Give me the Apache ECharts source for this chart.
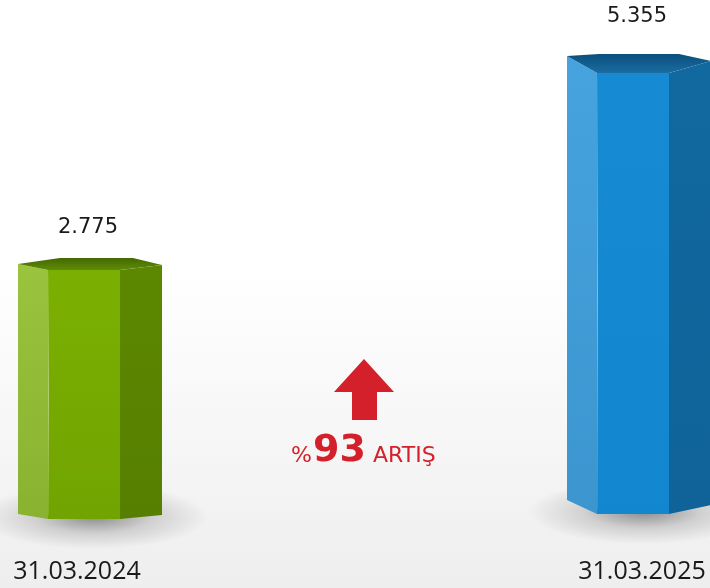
<!DOCTYPE html>
<html>
<head>
<meta charset="utf-8">
<script src="https://cdn.jsdelivr.net/npm/echarts@6/dist/echarts.min.js"></script>
<style>
  html, body { margin: 0; padding: 0; }
  #chart { width: 710px; height: 588px; }
</style>
</head>
<body>
<div id="chart"></div>
<script>
// data
const categories = ['31.03.2024', '31.03.2025'];
const values = [2775, 5355];
const yMin = -460;
const yMax = 5918;

// look of each prism (faces + little perspective tweaks)
const barLook = [
  {
    left: ['#9ac43e', '#88b230'], front: ['#7bb002', '#71a400'], right: ['#5c8800', '#567f00'],
    top: ['#446800', '#5f8c08'],
    tL: 6, tB: 12, tR: 5, bkL: -30, bkR: 43, bL: 5, bR: 4, baseShift: 2,
    labelDy: -42, catDx: -13
  },
  {
    left: ['#46a3de', '#3c95cf'], front: ['#168bd3', '#1286ce'], right: ['#11699f', '#0f6399'],
    top: ['#0b4f7c', '#1a6ca3'],
    tL: 17, tB: 19, tR: 12, bkL: -40, bkR: 40, bL: 14, bR: 9, baseShift: -3,
    labelDy: -56, catDx: 3
  }
];
const W = { l: 72, fl: 42, fr: 30, r: 72 };
const red = '#d3202a';

function fmt(v) {
  return String(v).replace(/\B(?=(\d{3})+(?!\d))/g, '.');
}
function vgrad(c) {
  return new echarts.graphic.LinearGradient(0, 0, 0, 1, [
    { offset: 0, color: c[0] }, { offset: 1, color: c[1] }
  ]);
}

const chart = echarts.init(document.getElementById('chart'));
const rise = Math.round((values[1] / values[0] - 1) * 100);

function renderItem(params, api) {
  const idx = api.value(0);
  const val = api.value(1);
  const top = api.coord([idx, val]);
  const base = api.coord([idx, yMin]);
  const s = barLook[idx];
  const cx = top[0], T = top[1], B = base[1] + s.baseShift;
  const L = cx - W.l, FL = cx - W.fl, FR = cx + W.fr, R = cx + W.r;
  return {
    type: 'group',
    children: [
      {
        type: 'circle',
        x: cx + 4, y: B - 2, scaleY: 0.28,
        shape: { cx: 0, cy: 0, r: 115 },
        style: {
          fill: new echarts.graphic.RadialGradient(0.5, 0.5, 0.5, [
            { offset: 0, color: 'rgba(0,0,0,0.42)' },
            { offset: 0.5, color: 'rgba(0,0,0,0.14)' },
            { offset: 1, color: 'rgba(0,0,0,0)' }
          ])
        },
        silent: true
      },
      {
        type: 'polygon',
        shape: { points: [[L, T - s.tL], [FL, T], [FL, B], [L, B - s.bL]] },
        style: { fill: vgrad(s.left) }
      },
      {
        type: 'polygon',
        shape: { points: [[FL, T], [FR, T], [FR, B], [FL, B]] },
        style: { fill: vgrad(s.front) }
      },
      {
        type: 'polygon',
        shape: { points: [[FR, T], [R, T - s.tR], [R, B - s.bR], [FR, B]] },
        style: { fill: vgrad(s.right) }
      },
      {
        type: 'polygon',
        shape: {
          points: [[L, T - s.tL], [cx + s.bkL, T - s.tB], [cx + s.bkR, T - s.tB],
                   [R, T - s.tR], [FR, T], [FL, T]]
        },
        style: { fill: vgrad(s.top) }
      },
      {
        type: 'line',
        shape: { x1: FL + 0.5, y1: T + 4, x2: FL + 0.5, y2: B - 4 },
        style: {
          stroke: new echarts.graphic.LinearGradient(0, 0, 0, 1, [
            { offset: 0, color: 'rgba(255,255,255,0.05)' },
            { offset: 0.5, color: 'rgba(255,255,255,0.45)' },
            { offset: 1, color: 'rgba(255,255,255,0.1)' }
          ]),
          lineWidth: 1
        }
      },
      {
        type: 'text',
        x: cx - 2, y: T + s.labelDy,
        style: {
          text: fmt(val), fill: '#1a1a1a', fontSize: 21,
          fontFamily: 'DejaVu Sans', align: 'center', verticalAlign: 'middle'
        }
      },
      {
        type: 'text',
        x: cx + s.catDx, y: 572,
        style: {
          text: categories[idx], fill: '#1a1a1a', fontSize: 25,
          fontFamily: 'Open Sans', align: 'center', verticalAlign: 'middle'
        }
      }
    ]
  };
}

const option = {
  animation: false,
  backgroundColor: new echarts.graphic.LinearGradient(0, 0, 0, 1, [
    { offset: 0, color: '#ffffff' },
    { offset: 0.45, color: '#ffffff' },
    { offset: 0.75, color: '#f6f6f6' },
    { offset: 1, color: '#eeeeee' }
  ]),
  grid: { left: 90, right: 71, top: 30, bottom: 71 },
  xAxis: { type: 'category', data: categories, boundaryGap: false, show: false },
  yAxis: { type: 'value', min: yMin, max: yMax, show: false },
  graphic: [
    {
      type: 'polygon',
      x: 364, y: 359,
      shape: { points: [[0, 0], [30, 33], [13, 33], [13, 61], [-12, 61], [-12, 33], [-30, 33]] },
      style: { fill: red }
    },
    {
      type: 'text', x: 312, y: 456,
      style: { text: '%', fontSize: 22, fontFamily: 'DejaVu Sans', fill: red, align: 'right', verticalAlign: 'middle' }
    },
    {
      type: 'text', x: 313, y: 451,
      style: { text: String(rise), fontSize: 38, fontWeight: 'bold', fontFamily: 'DejaVu Sans', fill: red, align: 'left', verticalAlign: 'middle' }
    },
    {
      type: 'text', x: 373, y: 456,
      style: { text: 'ARTIŞ', fontSize: 22, fontFamily: 'DejaVu Sans', fill: red, align: 'left', verticalAlign: 'middle' }
    }
  ],
  series: [
    {
      type: 'custom',
      renderItem: renderItem,
      clip: false,
      data: values.map((v, i) => [i, v])
    }
  ]
};
chart.setOption(option);
</script>
</body>
</html>
